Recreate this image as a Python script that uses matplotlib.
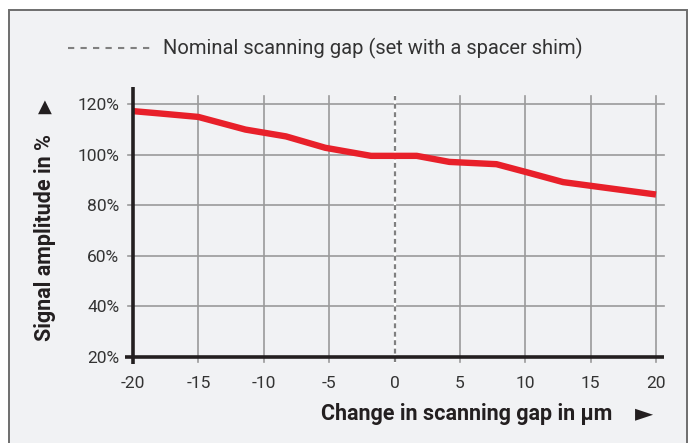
import numpy as np
import matplotlib.pyplot as plt
from matplotlib.patches import Rectangle

# signal amplitude vs. change in scanning gap
gap_um = [-20, -18, -15, -11.4, -8.3, -5.3, -1.8, 1.7, 4.2, 7.8, 10.2, 12.9, 20]
amplitude_pct = [117.3, 116.4, 115.0, 110.0, 107.3, 102.8, 99.6, 99.6, 97.2, 96.3, 93.0, 89.2, 84.3]

x_ticks = [-20, -15, -10, -5, 0, 5, 10, 15, 20]
y_ticks = [20, 40, 60, 80, 100, 120]
y_ticklabels = ["20%", "40%", "60%", "80%", "100%", "120%"]
nominal_gap = 0

bg = "#f1f2f4"
grid_col = "#9a9a9a"
dark = "#231f20"
red = "#e8202a"

W, H = 694, 443
fig = plt.figure(figsize=(W / 100, H / 100), dpi=100)
fig.patch.set_facecolor("white")

# grey panel with frame
panel = Rectangle((9 / W, -0.05), (687 - 9) / W, 1.05 - 10 / H,
                  transform=fig.transFigure, facecolor=bg,
                  edgecolor="#6e6e6e", lw=1.4, zorder=-10)
fig.patches.append(panel)

# axes placed so that -20..20 maps to px 133..656 and 20..120 % to px 357..104
px_x = 13.08
px_y = 2.527
ax_l, ax_r = 125, 670
ax_t, ax_b = 80, 372
ax = fig.add_axes([ax_l / W, 1 - ax_b / H, (ax_r - ax_l) / W, (ax_b - ax_t) / H])
ax.set_zorder(1)
ax.set_xlim(-20 - (133 - ax_l) / px_x, 20 + (ax_r - 656) / px_x)
ax.set_ylim(20 - (ax_b - 357) / px_y, 120 + (104.3 - ax_t) / px_y)
ax.patch.set_visible(False)
for s in ax.spines.values():
    s.set_visible(False)

# grid
for y in y_ticks[1:]:
    ax.plot([-20.4, 20.6], [y, y], color=grid_col, lw=1.2, zorder=1)
for x in x_ticks[1:]:
    if x == nominal_gap:
        continue
    ax.plot([x, x], [18.0, 123.3], color=grid_col, lw=1.2, zorder=1)

# nominal gap marker
ax.plot([nominal_gap, nominal_gap], [18.0, 123.3], color="white", lw=1.6, zorder=2)
ax.plot([nominal_gap, nominal_gap], [18.0, 123.3], color="#808080", lw=1.6,
        ls=(0, (2.2, 1.6)), zorder=3)

# axis lines
ax.plot([-20, -20], [17.2, 126.8], color=dark, lw=2.6, zorder=5, solid_capstyle="butt")
ax.plot([-20.6, 20.6], [20, 20], color=dark, lw=2.6, zorder=5, solid_capstyle="butt")

# signal curve
ax.plot(gap_um, amplitude_pct, color=red, lw=4.6, zorder=4, solid_capstyle="butt")

font = ["Roboto", "DejaVu Sans"]
ax.set_xticks(x_ticks)
ax.set_xticklabels([str(v) for v in x_ticks], family=font, fontsize=12.5,
                   color="#333333")
ax.set_yticks(y_ticks)
ax.set_yticklabels(y_ticklabels, family=font, fontsize=12.5, color="#333333")
ax.tick_params(length=0, pad=3)
ax.tick_params(axis="y", pad=4)

# axis titles with arrow heads
fig.text(45 / W, 1 - 238 / H, "Signal amplitude in %", rotation=90, ha="center",
         va="center", family=font, fontweight="bold", fontsize=15.5, color=dark)
fig.text(45 / W, 1 - 107 / H, "▲", ha="center", va="center",
         family="DejaVu Sans", fontsize=13, color=dark,
         transform=fig.transFigure)
fig.text(612 / W, 1 - 414 / H, "Change in scanning gap in µm", ha="right",
         va="center", family=font, fontweight="bold", fontsize=15.5, color=dark)
fig.text(644 / W, 1 - 413 / H, "►", ha="center", va="center",
         family="DejaVu Sans", fontsize=17, color=dark)

# legend for the dashed line
fig.add_artist(plt.Line2D([68 / W, 152 / W], [1 - 48 / H, 1 - 48 / H],
                          transform=fig.transFigure, color="#808080", lw=1.5,
                          ls=(0, (3, 3))))
fig.text(163 / W, 1 - 48 / H, "Nominal scanning gap (set with a spacer shim)",
         ha="left", va="center", family=font, fontsize=14.5, color="#333333")

fig.savefig("out.png", dpi=100, facecolor=fig.get_facecolor())
